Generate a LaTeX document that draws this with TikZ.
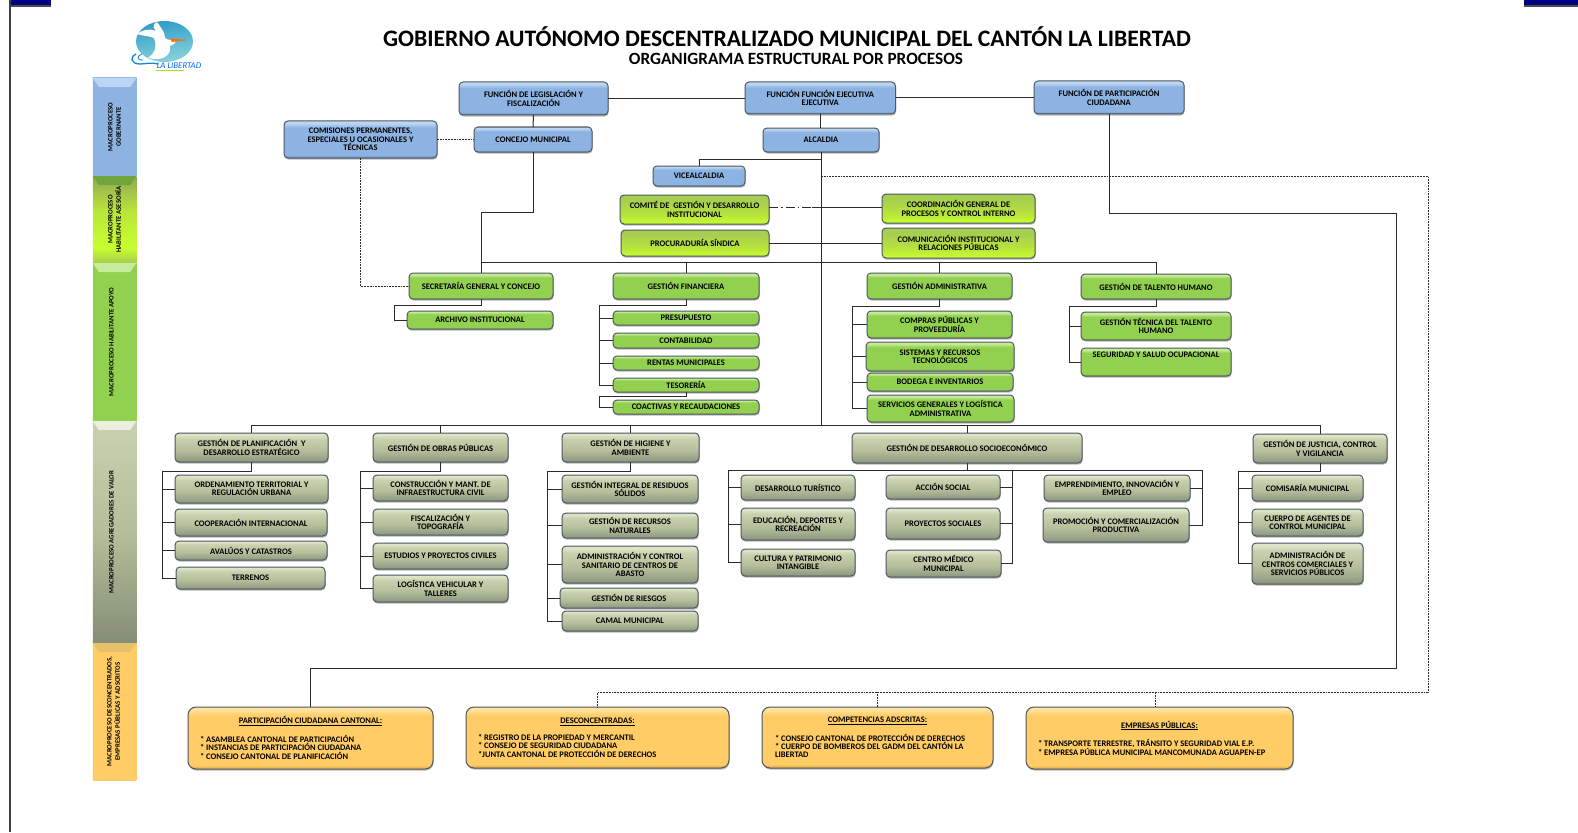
\documentclass[tikz,border=0pt]{standalone}
\usepackage{fontspec}
\setmainfont{Carlito}
\usetikzlibrary{shadows,calc}
\definecolor{navyb}{HTML}{000080}
\definecolor{edge}{HTML}{4E5760}
\definecolor{wirec}{HTML}{2B2B2B}
\definecolor{bA}{HTML}{5F86B8}\definecolor{bB}{HTML}{8DB3E2}\definecolor{bC}{HTML}{BCD5F2}
\definecolor{gA}{HTML}{6FA53A}\definecolor{gB}{HTML}{92D050}\definecolor{gC}{HTML}{C6EC9A}
\definecolor{lA}{HTML}{C8FF2E}\definecolor{lB}{HTML}{B9E53A}\definecolor{lC}{HTML}{A6CE50}
\definecolor{oA}{HTML}{858E76}\definecolor{oB}{HTML}{949E86}\definecolor{oM}{HTML}{B4BE9A}\definecolor{oD}{HTML}{C9D2B0}\definecolor{oC}{HTML}{DDE5C8}
\definecolor{yA}{HTML}{D9A845}\definecolor{yB}{HTML}{FFCC66}\definecolor{yC}{HTML}{FFE3A0}
\definecolor{logoA}{HTML}{2E9CC8}\definecolor{logoB}{HTML}{8AD4DC}
\definecolor{sbA}{HTML}{8FA855}
\pgfdeclareverticalshading{blueshade}{100bp}{color(0bp)=(bA);color(25bp)=(bA);color(29bp)=(bB);color(66bp)=(bB);color(72bp)=(bC);color(75bp)=(bC);color(100bp)=(bC)}
\pgfdeclareverticalshading{greenshade}{100bp}{color(0bp)=(gA);color(25bp)=(gA);color(29bp)=(gB);color(66bp)=(gB);color(72bp)=(gC);color(75bp)=(gC);color(100bp)=(gC)}
\pgfdeclareverticalshading{limeshade}{100bp}{color(0bp)=(lA);color(25bp)=(lA);color(40bp)=(lB);color(66bp)=(lC);color(75bp)=(lC);color(100bp)=(lC)}
\pgfdeclareverticalshading{oliveshade}{100bp}{color(0bp)=(oA);color(25bp)=(oA);color(29bp)=(oB);color(45bp)=(oM);color(66bp)=(oD);color(72bp)=(oC);color(75bp)=(oC);color(100bp)=(oC)}
\pgfdeclareverticalshading{yellowshade}{100bp}{color(0bp)=(yA);color(25bp)=(yA);color(28bp)=(yB);color(68bp)=(yB);color(73bp)=(yC);color(75bp)=(yC);color(100bp)=(yC)}
\pgfdeclareverticalshading{sideblue}{100bp}{color(0bp)=(bB);color(100bp)=(bB)}
\pgfdeclareverticalshading{sidegreen}{100bp}{color(0bp)=(gB);color(100bp)=(gB)}
\pgfdeclareverticalshading{sideyellow}{100bp}{color(0bp)=(yB);color(100bp)=(yB)}
\pgfdeclareverticalshading{sidelime}{100bp}{color(0bp)=(lC);color(25bp)=(lC);color(34bp)=(lA);color(55bp)=(lB);color(75bp)=(sbA);color(100bp)=(sbA)}
\pgfdeclareverticalshading{sideolive}{100bp}{color(0bp)=(oA);color(25bp)=(oA);color(50bp)=(oM);color(75bp)=(oD);color(100bp)=(oD)}
\tikzset{
  base/.style={draw=edge,line width=1pt,rounded corners=4pt,inner sep=0pt,outer sep=0pt,align=center,
    font=\fontsize{8.5}{8.4}\selectfont\bfseries,text=black,
    general shadow={fill=black,opacity=.28,shadow xshift=.6pt,shadow yshift=-1.6pt}},
  bluebox/.style={base,shading=blueshade},
  greenbox/.style={base,shading=greenshade},
  limebox/.style={base,shading=limeshade},
  olivebox/.style={base,shading=oliveshade},
  yellowbox/.style={base,shading=yellowshade,rounded corners=8pt},
  wire/.style={draw=wirec,line width=1pt},
  dotline/.style={draw=wirec,line width=.9pt,dash pattern=on 1.8pt off 1pt},
  dashdotline/.style={draw=wirec,line width=.9pt,dash pattern=on 9pt off 3pt on 1.5pt off 3pt},
  band/.style={inner sep=0pt,outer sep=0pt},
  bandtext/.style={rotate=90,align=center,font=\fontsize{6.8}{8.4}\selectfont\bfseries,text=black,inner sep=0pt},
}
\newcommand{\bx}[7]{%
  \pgfmathsetmacro\bxcx{(#3+#5)/2}\pgfmathsetmacro\bxcy{-(#4+#6)/2}%
  \pgfmathsetmacro\bxw{#5-#3}\pgfmathsetmacro\bxh{#6-#4}%
  \node[#2,minimum width=\bxw pt,minimum height=\bxh pt] (#1) at (\bxcx,\bxcy) {#7};}
\newcommand{\tree}[4]{% parent, spine x, spine y, children
  \coordinate (s#1) at (#2,-#3);
  \draw[wire] (#1.south) |- (s#1);
  \foreach \kid in {#4} {\draw[wire] (s#1) |- (\kid.west);}}
\newcommand{\sidebar}[7]{% name shading y1 y2 bevel text
  \pgfmathsetmacro\bxcy{-(#3+#4)/2}\pgfmathsetmacro\bxh{#4-#3}%
  \node[band,shading=#2,minimum width=43.5pt,minimum height=\bxh pt] (#1) at (114.5,\bxcy) {};
  \fill[#5] (#1.north west) -- (#1.north east) -- ([xshift=-6pt,yshift=-9pt]#1.north east) -- ([xshift=6pt,yshift=-9pt]#1.north west) -- cycle;
  \node[bandtext] at ([xshift=#6pt]#1.center) {#7};}
\begin{document}
\begin{tikzpicture}[x=1pt,y=1pt]
\useasboundingbox (0,0) rectangle (1578,-832);
\fill[white] (0,0) rectangle (1578,-832);
% frame
\fill[navyb] (10,0) rectangle (51,-5);
\fill[navyb] (1524,0) rectangle (1578,-5);
\fill[black!70] (10,-5) rectangle (51,-7);
\fill[black!70] (1524,-5) rectangle (1578,-7);
\draw[black!75,line width=1.4pt] (10,0) -- (10,-832);
% logo
\shade[top color=logoA,bottom color=logoB,shading angle=10] (164.5,-41.5) ellipse [x radius=28.5,y radius=20.5];
\fill[white] (148,-58) .. controls (156,-52) and (157,-46) .. (154,-38) .. controls (150,-36) and (142,-36) .. (137,-34) .. controls (142,-30) and (150,-28) .. (156,-31) .. controls (152,-27) and (153,-24) .. (157,-22) .. controls (161,-28) and (165,-32) .. (165,-38) .. controls (170,-42) and (172,-38) .. (176,-39) .. controls (176,-44) and (173,-45) .. (170,-46) .. controls (172,-55) and (162,-62) .. (148,-58) -- cycle;
\fill[orange!85!red] (170,-38.5) -- (188,-40) -- (172,-42) -- cycle;
\draw[cyan!70!blue,line width=1.3pt] (136,-54) .. controls (130,-56) and (130,-64) .. (140,-64) .. controls (146,-64) and (150,-62) .. (158,-64);
\draw[cyan!70!blue,line width=.8pt] (142,-54) .. controls (136,-56) and (137,-61) .. (143,-60);
\node[inner sep=0pt,font=\fontsize{8.8}{9}\selectfont\itshape,text=blue!60!cyan] (logotext) at (179,-66) {LA LIBERTAD};
\fill[yellow!70!green] (156,-69.6) rectangle (184,-71);
% titles
\node[inner sep=0pt,font=\fontsize{23.6}{25}\selectfont\bfseries] (title) at (787,-36.3) {GOBIERNO AUTÓNOMO DESCENTRALIZADO MUNICIPAL DEL CANTÓN LA LIBERTAD};
\node[inner sep=0pt,font=\fontsize{17.2}{19}\selectfont\bfseries] (subtitle) at (796,-58.5) {ORGANIGRAMA ESTRUCTURAL POR PROCESOS};
% sidebar
\sidebar{sA}{sideblue}{78}{176}{bC}{0}{MACROPROCESO\\GOBERNANTE}
\sidebar{sB}{sidelime}{176}{263}{gA}{0}{MACROPROCESO\\HABILITANTE ASESORÍA}
\sidebar{sC}{sidegreen}{263}{421}{gC}{-3}{MACROPROCESO HABILITANTE APOYO}
\sidebar{sD}{sideolive}{421}{643}{oC!60!white}{-3}{MACROPROCESO AGREGADORES DE VALOR}
\sidebar{sE}{sideyellow}{643}{780}{yA!60!yC}{-1}{MACROPROCESO DESCONCENTRADOS,\\EMPRESAS PÚBLICAS Y ADSCRITOS}
% boxes: blue
\bx{fleg}{bluebox}{459}{82}{608}{115}{FUNCIÓN DE LEGISLACIÓN Y\\FISCALIZACIÓN}
\bx{fejec}{bluebox}{745}{82}{895.5}{114}{FUNCIÓN FUNCIÓN EJECUTIVA\\EJECUTIVA}
\bx{fpart}{bluebox}{1034}{81}{1184}{114}{FUNCIÓN DE PARTICIPACIÓN\\CIUDADANA}
\bx{comis}{bluebox}{284}{121}{437}{158}{COMISIONES PERMANENTES,\\ESPECIALES U OCASIONALES Y\\TÉCNICAS}
\bx{conc}{bluebox}{474}{127}{592}{152}{CONCEJO MUNICIPAL}
\bx{alc}{bluebox}{763}{128}{879}{152}{ALCALDIA}
\bx{vice}{bluebox}{653}{166}{745}{186}{VICEALCALDIA}
% lime
\bx{comite}{limebox}{620}{195}{769}{224}{COMITÉ DE\ \ GESTIÓN Y DESARROLLO\\INSTITUCIONAL}
\bx{coord}{limebox}{882}{194}{1035}{223}{COORDINACIÓN GENERAL DE\\PROCESOS Y CONTROL INTERNO}
\bx{proc}{limebox}{621}{230}{769}{256}{PROCURADURÍA SÍNDICA}
\bx{comun}{limebox}{882}{228}{1035}{258}{COMUNICACIÓN INSTITUCIONAL Y\\RELACIONES PÚBLICAS}
% green
\bx{sec}{greenbox}{409}{273}{553}{299}{SECRETARÍA GENERAL Y CONCEJO}
\bx{arch}{greenbox}{407}{311}{553}{329}{ARCHIVO INSTITUCIONAL}
\bx{fin}{greenbox}{613}{273}{759}{299}{GESTIÓN FINANCIERA}
\bx{pres}{greenbox}{613}{311}{759}{325}{PRESUPUESTO}
\bx{cont}{greenbox}{613}{333}{759}{348}{CONTABILIDAD}
\bx{rent}{greenbox}{613}{356}{759}{370}{RENTAS MUNICIPALES}
\bx{teso}{greenbox}{613}{378}{759}{392}{TESORERÍA}
\bx{coac}{greenbox}{613}{400}{759}{414}{COACTIVAS Y RECAUDACIONES}
\bx{adm}{greenbox}{867}{273}{1012}{299}{GESTIÓN ADMINISTRATIVA}
\bx{compr}{greenbox}{867}{311}{1012}{338}{COMPRAS PÚBLICAS Y\\PROVEEDURÍA}
\bx{sist}{greenbox}{866}{342}{1014}{371}{SISTEMAS Y RECURSOS\\TECNOLÓGICOS}
\bx{bode}{greenbox}{867}{373}{1013}{391}{BODEGA E INVENTARIOS}
\bx{serv}{greenbox}{867}{395}{1014}{422}{SERVICIOS GENERALES Y LOGÍSTICA\\ADMINISTRATIVA}
\bx{tal}{greenbox}{1081}{274}{1231}{299}{GESTIÓN DE TALENTO HUMANO}
\bx{gtec}{greenbox}{1081}{312}{1231}{340}{GESTIÓN TÉCNICA DEL TALENTO\\HUMANO}
\bx{segu}{greenbox}{1081}{348}{1231}{376}{SEGURIDAD Y SALUD OCUPACIONAL\\[7pt]}
% olive
\bx{plan}{olivebox}{175}{433}{328}{462}{GESTIÓN DE PLANIFICACIÓN\ \ Y\\DESARROLLO ESTRATÉGICO}
\bx{orde}{olivebox}{175}{475}{328}{503}{ORDENAMIENTO TERRITORIAL Y\\REGULACIÓN URBANA}
\bx{coop}{olivebox}{175}{509}{327}{536}{COOPERACIÓN INTERNACIONAL}
\bx{aval}{olivebox}{175}{541}{327}{560}{AVALÚOS Y CATASTROS}
\bx{terr}{olivebox}{176}{567}{325}{589}{TERRENOS}
\bx{obra}{olivebox}{373}{433}{508}{462}{GESTIÓN DE OBRAS PÚBLICAS}
\bx{cons}{olivebox}{373}{475}{508}{501}{CONSTRUCCIÓN Y MANT. DE\\INFRAESTRUCTURA CIVIL}
\bx{fisc}{olivebox}{373}{509}{508}{535}{FISCALIZACIÓN Y\\TOPOGRAFÍA}
\bx{estu}{olivebox}{373}{543}{508}{569}{ESTUDIOS Y PROYECTOS CIVILES}
\bx{logi}{olivebox}{373}{575}{508}{602}{LOGÍSTICA VEHICULAR Y\\TALLERES}
\bx{higi}{olivebox}{562}{433}{699}{462}{GESTIÓN DE HIGIENE Y\\AMBIENTE}
\bx{inte}{olivebox}{562}{475}{698}{503}{GESTIÓN INTEGRAL DE RESIDUOS\\SÓLIDOS}
\bx{recu}{olivebox}{562}{513}{698}{538}{GESTIÓN DE RECURSOS\\NATURALES}
\bx{sani}{olivebox}{562}{546}{698}{583}{ADMINISTRACIÓN Y CONTROL\\SANITARIO DE CENTROS DE\\ABASTO}
\bx{ries}{olivebox}{560}{588}{698}{608}{GESTIÓN DE RIESGOS}
\bx{cama}{olivebox}{562}{611}{698}{631}{CAMAL MUNICIPAL}
\bx{desa}{olivebox}{852}{433}{1082}{463}{GESTIÓN DE DESARROLLO SOCIOECONÓMICO}
\bx{turi}{olivebox}{741}{475}{855}{500}{DESARROLLO TURÍSTICO}
\bx{educ}{olivebox}{741}{508}{855}{540}{EDUCACIÓN, DEPORTES Y\\RECREACIÓN}
\bx{cult}{olivebox}{741}{549}{855}{576}{CULTURA Y PATRIMONIO\\INTANGIBLE}
\bx{acci}{olivebox}{886}{475}{1000}{499}{ACCIÓN SOCIAL}
\bx{proy}{olivebox}{886}{508}{1000}{539}{PROYECTOS SOCIALES}
\bx{cent}{olivebox}{886}{550}{1001}{577}{CENTRO MÉDICO\\MUNICIPAL}
\bx{empr}{olivebox}{1044}{475}{1190}{501}{EMPRENDIMIENTO, INNOVACIÓN Y\\EMPLEO}
\bx{prom}{olivebox}{1043}{508}{1189}{542}{PROMOCIÓN Y COMERCIALIZACIÓN\\PRODUCTIVA}
\bx{just}{olivebox}{1253}{434}{1387}{463}{GESTIÓN DE JUSTICIA, CONTROL\\Y VIGILANCIA}
\bx{comi}{olivebox}{1252}{475}{1363}{501}{COMISARÍA MUNICIPAL}
\bx{cuer}{olivebox}{1252}{509}{1363}{536}{CUERPO DE AGENTES DE\\CONTROL MUNICIPAL}
\bx{cntr}{olivebox}{1252}{543}{1363}{584}{ADMINISTRACIÓN DE\\CENTROS COMERCIALES Y\\SERVICIOS PÚBLICOS}
% yellow
\newcommand{\ylist}[3]{\parbox{#1pt}{\centering\underline{#2}\par\vspace{8.4pt}\raggedright #3\par}}
\bx{part}{yellowbox}{188}{707}{433}{769}{\ylist{221}{PARTICIPACIÓN CIUDADANA CANTONAL:}{{*} ASAMBLEA CANTONAL DE PARTICIPACIÓN\\{*} INSTANCIAS DE PARTICIPACIÓN CIUDADANA\\{*} CONSEJO CANTONAL DE PLANIFICACIÓN}}
\bx{desc}{yellowbox}{466}{707}{729}{768}{\ylist{239}{DESCONCENTRADAS:}{{*} REGISTRO DE LA PROPIEDAD Y MERCANTIL\\{*} CONSEJO DE SEGURIDAD CIUDADANA\\{*}JUNTA CANTONAL DE PROTECCIÓN DE DERECHOS}}
\bx{comp}{yellowbox}{762}{707}{993}{768}{\ylist{205}{COMPETENCIAS ADSCRITAS:}{{*} CONSEJO CANTONAL DE PROTECCIÓN DE DERECHOS\\{*} CUERPO DE BOMBEROS DEL GADM DEL CANTÓN LA\\LIBERTAD}}
\bx{emps}{yellowbox}{1026}{707}{1293}{769}{\ylist{243}{EMPRESAS PÚBLICAS:}{{*} TRANSPORTE TERRESTRE, TRÁNSITO Y SEGURIDAD VIAL E.P.\\{*} EMPRESA PÚBLICA MUNICIPAL MANCOMUNADA AGUAPEN-EP}}
% connectors
\coordinate (busA) at (481,-262);
\coordinate (busB) at (251.5,-425);
\coordinate (vj) at (821,-159);
\coordinate (concA) at (533,-212);
\draw[wire] (fleg.east) -- (fleg.east -| fejec.west);
\draw[wire] (fejec.east) -- (fejec.east -| fpart.west);
\draw[wire] (fleg.south) -- (conc.north);
\draw[wire] (fejec.south) -- (fejec.south |- alc.north);
\draw[wire] (alc.south) -- (alc.south |- busB);
\draw[wire] (vice.north) |- (vj);
\draw[wire] (conc.south) |- (concA -| sec.north) -- (sec.north);
\draw[wire] (busA) -- (busA -| tal.north);
\foreach \top in {fin,adm,tal} {\draw[wire] (\top.north) -- (\top.north |- busA);}
\draw[wire] (busB) -- (busB -| just.north);
\foreach \top in {plan,obra,higi,desa,just} {\draw[wire] (\top.north) -- (\top.north |- busB);}
% staff links
\coordinate (staffA) at (812,-207);
\draw[dashdotline] (staffA -| comite.east) -- (staffA);
\draw[wire] (staffA) -- (staffA -| coord.west);
\draw[wire] (proc.east) -- (proc.east -| comun.west);
\draw[dotline] (comis.east) -- (comis.east -| conc.west);
\draw[dotline] (comis.south) |- (sec.west);
% trees
\tree{sec}{394}{305}{arch}
\tree{fin}{599}{305}{pres,cont,rent,teso}
\tree{teso}{599}{396}{coac}
\tree{adm}{852}{306}{compr,sist,bode,serv}
\tree{tal}{1069}{306}{gtec,segu}
\tree{plan}{162}{471}{orde,coop,aval,terr}
\tree{obra}{360}{471}{cons,fisc,estu,logi}
\tree{higi}{547}{471}{inte,recu,sani,ries,cama}
\tree{just}{1238}{471}{comi,cuer,cntr}
\coordinate (sDL) at (728,-470);
\coordinate (sDM) at (1012,-470);
\coordinate (sDR) at (1202,-470);
\draw[wire] (desa.south) |- (sDL);
\draw[wire] (desa.south) |- (sDR);
\foreach \kid in {turi,educ,cult} {\draw[wire] (sDL) |- (\kid.west);}
\foreach \kid in {acci,proy,cent} {\draw[wire] (sDM) |- (\kid.east);}
\foreach \kid in {empr,prom} {\draw[wire] (sDR) |- (\kid.east);}
% long links
\coordinate (lgA) at (1396,-213);
\coordinate (lgB) at (1396,-668);
\draw[wire] (fpart.south) |- (lgA) -- (lgB) -| (part.north);
\coordinate (dsA) at (821,-176);
\coordinate (dsB) at (1428,-176);
\coordinate (dsC) at (1428,-692);
\coordinate (dsD) at (1155,-692);
\draw[dotline] (dsA) -- (dsB) -- (dsC) -| (desc.north);
\draw[dotline] (comp.north) -- (comp.north |- dsC);
\draw[dotline] (dsD) -- (dsD |- emps.north);
\end{tikzpicture}
\end{document}
